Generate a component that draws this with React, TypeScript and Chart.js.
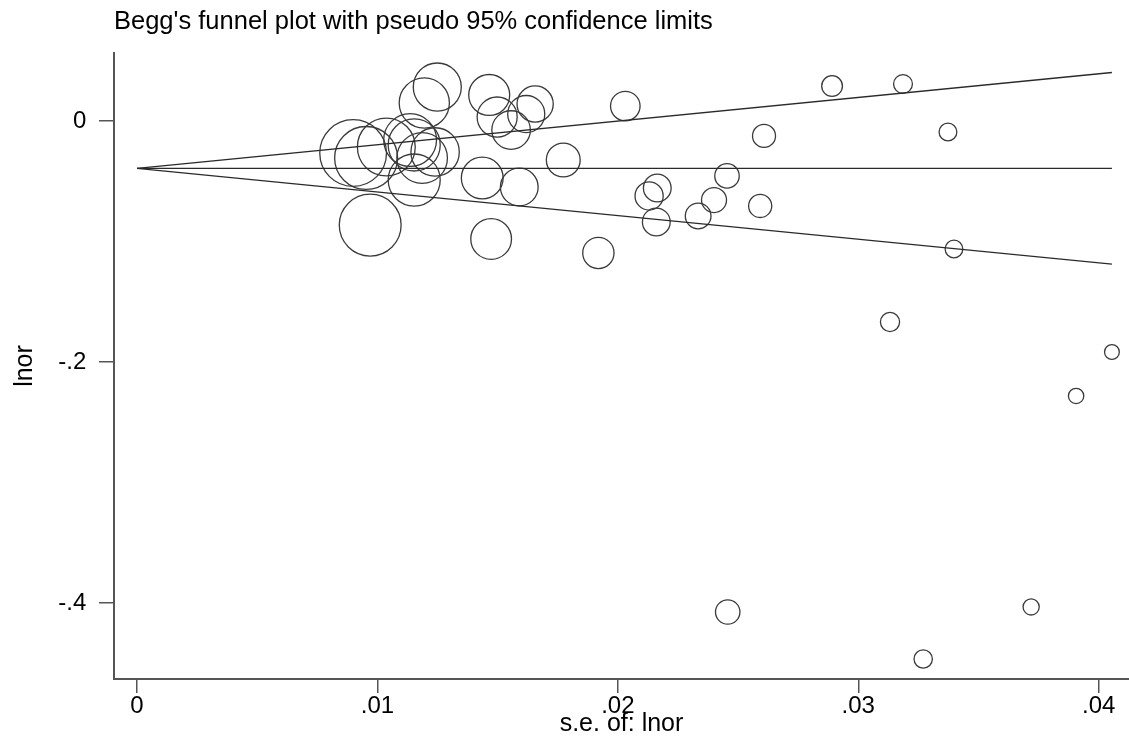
import React, { useEffect, useRef } from "react";
import { Chart, registerables } from "chart.js";

Chart.register(...registerables);

// Study-level data (standard error, log odds ratio)
const seValues = [
  0.00899, 0.00953, 0.01037, 0.0097, 0.01136, 0.01153, 0.01195, 0.01249, 0.01186, 0.0124,
  0.01153, 0.01436, 0.01465, 0.01473, 0.01498, 0.01556, 0.0159, 0.01619, 0.01656, 0.01773,
  0.01919, 0.02031, 0.0213, 0.02164, 0.0216, 0.02334, 0.024, 0.02454, 0.02592, 0.02608,
  0.02457, 0.02891, 0.03186, 0.03132, 0.03373, 0.03398, 0.0327, 0.03719, 0.03906, 0.04055,
];
const lnorValues = [
  -0.0266, -0.0307, -0.0216, -0.0864, -0.0158, -0.0199, 0.0149, 0.0282, -0.0307, -0.0257,
  -0.049, -0.0473, 0.0216, -0.0979, 0.0033, -0.0075, -0.0548, 0.0058, 0.0141, -0.0324,
  -0.1095, 0.0124, -0.0622, -0.0556, -0.0838, -0.0788, -0.0656, -0.0456, -0.0705, -0.0124,
  -0.4075, 0.029, 0.0307, -0.1668, -0.0091, -0.1062, -0.4465, -0.4033, -0.2282, -0.1917,
];

// Pooled estimate and pseudo 95% confidence limits
const funnelSe = [0, 0.04055];
const pooledLine = [-0.0393, -0.0393];
const upperLimit = [-0.0393, 0.0402];
const lowerLimit = [-0.0393, -0.1188];

const xTickValues = [0, 0.01, 0.02, 0.03, 0.04];
const xTickLabels = ["0", ".01", ".02", ".03", ".04"];
const yTickValues = [0, -0.2, -0.4];
const yTickLabels = ["0", "-.2", "-.4"];

const titleText = "Begg's funnel plot with pseudo 95% confidence limits";
const xTitle = "s.e. of: lnor";
const yTitle = "lnor";

const FONT = "'Liberation Sans', Arial, Helvetica, sans-serif";

function labelFor(values: number[], labels: string[], v: number) {
  let best = 0;
  for (let i = 0; i < values.length; i++) {
    if (Math.abs(values[i] - v) < Math.abs(values[best] - v)) best = i;
  }
  return labels[best];
}

export default function App() {
  const canvasRef = useRef<HTMLCanvasElement | null>(null);

  useEffect(() => {
    if (!canvasRef.current) return;
    const points = seValues.map((s, i) => ({ x: s, y: lnorValues[i] }));
    const mk = (ys: number[]) => funnelSe.map((s, i) => ({ x: s, y: ys[i] }));
    const lineStyle = {
      type: "line" as const,
      showLine: true,
      pointRadius: 0,
      borderColor: "#2a2a2a",
      borderWidth: 1.4,
      fill: false,
      tension: 0,
    };

    const chart = new Chart(canvasRef.current, {
      type: "scatter",
      data: {
        datasets: [
          { ...lineStyle, data: mk(upperLimit) } as any,
          { ...lineStyle, data: mk(pooledLine) } as any,
          { ...lineStyle, data: mk(lowerLimit) } as any,
          {
            type: "scatter",
            data: points,
            pointStyle: "circle",
            backgroundColor: "rgba(0,0,0,0)",
            borderColor: "#3a3a3a",
            borderWidth: 1.3,
            pointRadius: (ctx: any) => 0.3 / seValues[ctx.dataIndex],
            pointHoverRadius: (ctx: any) => 0.3 / seValues[ctx.dataIndex],
          } as any,
        ],
      },
      options: {
        responsive: false,
        animation: false,
        clip: false as any,
        layout: { autoPadding: false, padding: { left: 0, right: 0, top: 0, bottom: 0 } },
        plugins: {
          legend: { display: false },
          tooltip: { enabled: false },
          title: {
            display: true,
            text: titleText,
            align: "start",
            fullSize: false,
            color: "#000",
            font: { family: FONT, size: 25.5, weight: "normal", lineHeight: 1.2 },
            padding: { top: 7, bottom: 15.4 },
          },
        },
        scales: {
          x: {
            type: "linear",
            min: -0.000956,
            max: 0.04126,
            afterFit: (scale: any) => {
              scale.height = 67;
              scale.paddingLeft = 0;
              scale.paddingRight = 0;
            },
            afterBuildTicks: (scale: any) => {
              scale.ticks = xTickValues.map((v) => ({ value: v }));
            },
            ticks: {
              color: "#000",
              padding: 1,
              font: { family: FONT, size: 24, lineHeight: 1 },
              callback: (v: any) => labelFor(xTickValues, xTickLabels, Number(v)),
              maxRotation: 0,
              autoSkip: false,
            },
            grid: {
              display: true,
              drawOnChartArea: false,
              drawTicks: true,
              tickLength: 14,
              color: "#555",
              lineWidth: 1.5,
            },
            border: { display: true, color: "#555", width: 2 },
            title: {
              display: true,
              text: xTitle,
              color: "#000",
              font: { family: FONT, size: 25, lineHeight: 1.2 },
              padding: { top: 0, bottom: 7 },
            },
          },
          y: {
            type: "linear",
            min: -0.4631,
            max: 0.05643,
            afterFit: (scale: any) => {
              scale.width = 114;
              scale.paddingTop = 0;
              scale.paddingBottom = 0;
            },
            afterBuildTicks: (scale: any) => {
              scale.ticks = yTickValues.map((v) => ({ value: v }));
            },
            ticks: {
              color: "#000",
              padding: 12.7,
              font: { family: FONT, size: 24, lineHeight: 1 },
              callback: (v: any) => labelFor(yTickValues, yTickLabels, Number(v)),
              autoSkip: false,
            },
            grid: {
              display: true,
              drawOnChartArea: false,
              drawTicks: true,
              tickLength: 15,
              color: "#555",
              lineWidth: 1.5,
            },
            border: { display: true, color: "#555", width: 2 },
            title: {
              display: true,
              text: yTitle,
              color: "#000",
              font: { family: FONT, size: 25, lineHeight: 1.2 },
              padding: { top: 10, bottom: 0 },
            },
          },
        },
      },
    });
    return () => chart.destroy();
  }, []);

  return (
    <div style={{ position: "absolute", left: 0, top: 0, width: 1129, height: 746, background: "#fff" }}>
      <canvas ref={canvasRef} width={1129} height={746} />
    </div>
  );
}
